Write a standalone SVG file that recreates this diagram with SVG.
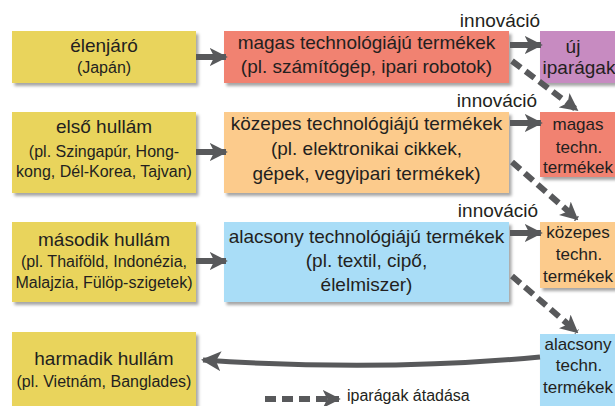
<svg xmlns="http://www.w3.org/2000/svg" width="615" height="406" viewBox="0 0 615 406">
<defs>
<filter id="sh" x="-10%" y="-10%" width="130%" height="140%">
<feDropShadow dx="2.5" dy="3" stdDeviation="1.5" flood-color="#000" flood-opacity="0.35"/>
</filter>
<marker id="ah" viewBox="0 0 10 10" refX="9" refY="5" markerWidth="3" markerHeight="3" orient="auto" markerUnits="strokeWidth">
<path d="M0,0 L10,5 L0,10 L2.5,5 Z" fill="#58595b"/>
</marker>
<marker id="ahb" viewBox="0 0 10 10" refX="9" refY="5" markerWidth="4" markerHeight="4" orient="auto" markerUnits="strokeWidth">
<path d="M0,0 L10,5 L0,10 L2.5,5 Z" fill="#58595b"/>
</marker>
</defs>
<style>
text{font-family:"Liberation Sans",Arial,sans-serif;fill:#231f20;text-anchor:middle}
.t{font-size:19px}
.s{font-size:16px}
.r{font-size:17px}
.yl{fill:#e9d45c}
.rd{fill:#f18271}
.or{fill:#fccb8c}
.bl{fill:#a9ddf7}
.pu{fill:#c78bc1}
.box{filter:url(#sh)}
.sol{stroke:#58595b;stroke-width:6;fill:none;marker-end:url(#ah)}
.dsh{stroke:#58595b;stroke-width:6;fill:none;stroke-dasharray:11,6;marker-end:url(#ah)}
</style>

<g id="elenjaro">
<rect class="box yl" x="12" y="31" width="184" height="52"/>
<text class="t" x="104" y="52">élenjáró</text>
<text class="s" x="104" y="73">(Japán)</text>
</g>
<g id="elso-hullam">
<rect class="box yl" x="12" y="112" width="184" height="81"/>
<text class="t" x="104" y="133">első hullám</text>
<text class="s" x="104" y="157">(pl. Szingapúr, Hong-</text>
<text class="s" x="104" y="177">kong, Dél-Korea, Tajvan)</text>
</g>
<g id="masodik-hullam">
<rect class="box yl" x="12" y="222" width="184" height="80"/>
<text class="t" x="104" y="246">második hullám</text>
<text class="s" x="104" y="267">(pl. Thaiföld, Indonézia,</text>
<text class="s" x="104" y="288">Malajzia, Fülöp-szigetek)</text>
</g>
<g id="harmadik-hullam">
<rect class="box yl" x="12" y="332" width="184" height="80"/>
<text class="t" x="104" y="365">harmadik hullám</text>
<text class="s" x="104" y="387">(pl. Vietnám, Banglades)</text>
</g>

<g id="magas-tech">
<rect class="box rd" x="224" y="31" width="285" height="52"/>
<text class="t" x="366.5" y="49">magas technológiájú termékek</text>
<text class="t" x="366.5" y="73">(pl. számítógép, ipari robotok)</text>
</g>
<g id="kozepes-tech">
<rect class="box or" x="224" y="112" width="285" height="81"/>
<text class="t" x="366.5" y="130">közepes technológiájú termékek</text>
<text class="t" x="366.5" y="155">(pl. elektronikai cikkek,</text>
<text class="t" x="366.5" y="180">gépek, vegyipari termékek)</text>
</g>
<g id="alacsony-tech">
<rect class="box bl" x="224" y="222" width="285" height="80"/>
<text class="t" x="366.5" y="243">alacsony technológiájú termékek</text>
<text class="t" x="366.5" y="267">(pl. textil, cipő,</text>
<text class="t" x="366.5" y="291">élelmiszer)</text>
</g>

<g id="uj-iparagak">
<rect class="box pu" x="540" y="31" width="90" height="52"/>
<text class="t" x="573" y="53">új</text>
<text class="t" x="579" y="74">iparágak</text>
</g>
<g id="magas-techn">
<rect class="box rd" x="540" y="112" width="90" height="65"/>
<text class="r" x="578" y="130">magas</text>
<text class="r" x="579" y="153">techn.</text>
<text class="r" x="578" y="173">termékek</text>
</g>
<g id="kozepes-techn">
<rect class="box or" x="540" y="222" width="90" height="66"/>
<text class="r" x="578" y="238">közepes</text>
<text class="r" x="579" y="260">techn.</text>
<text class="r" x="578" y="282">termékek</text>
</g>
<g id="alacsony-techn">
<rect class="box bl" x="540" y="334" width="90" height="80"/>
<text class="r" x="578" y="350">alacsony</text>
<text class="r" x="579" y="371">techn.</text>
<text class="r" x="578" y="393">termékek</text>
</g>

<g id="connectors">
<line class="sol" x1="196" y1="57" x2="226" y2="57"/>
<line class="sol" x1="196" y1="152" x2="226" y2="152"/>
<line class="sol" x1="196" y1="261" x2="226" y2="261"/>
<line class="sol" x1="510" y1="45" x2="541" y2="45"/>
<line class="sol" x1="510" y1="123" x2="541" y2="123"/>
<line class="sol" x1="510" y1="233" x2="541" y2="233"/>
<line class="dsh" x1="512" y1="61" x2="577" y2="110"/>
<line class="dsh" x1="512" y1="162" x2="577" y2="219"/>
<line class="dsh" x1="512" y1="276" x2="577" y2="332"/>
<path d="M540,357 Q380,372 203,360" stroke="#58595b" stroke-width="5" fill="none" marker-end="url(#ahb)"/>
<text class="t" x="500" y="27">innováció</text>
<text class="t" x="497" y="107">innováció</text>
<text class="t" x="498" y="217">innováció</text>
</g>

<g id="legend">
<line class="dsh" x1="265" y1="399" x2="339" y2="399" stroke-dasharray="12,6"/>
<text class="s" x="347" y="401" style="text-anchor:start">iparágak átadása</text>
</g>
</svg>
